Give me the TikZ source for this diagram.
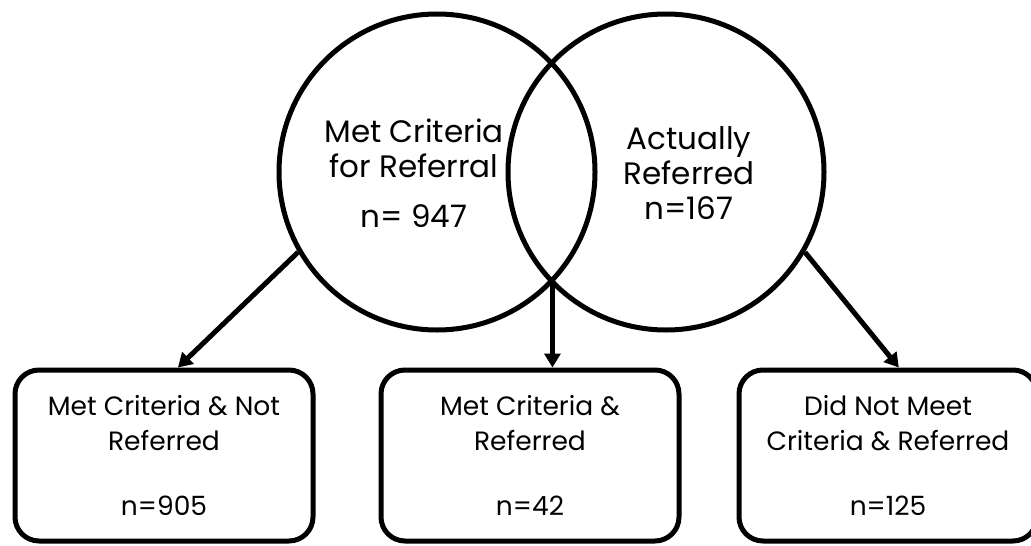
\documentclass[tikz,border=0pt]{standalone}
\usepackage{fontspec}
\setmainfont{Poppins}
\usetikzlibrary{arrows.meta}

\begin{document}
\begin{tikzpicture}[x=1pt,y=-1pt,line width=5pt,>={Triangle[length=14pt,width=16pt]},
  venn/.style={draw,circle,minimum size=316pt,inner sep=0pt},
  tag/.style={align=center,font=\fontsize{31}{35}\selectfont},
  outcome/.style={draw,rounded corners=24pt,minimum width=298pt,minimum height=171pt,
    align=center,font=\fontsize{26.5}{35}\selectfont}]
  \useasboundingbox (0,0) rectangle (1031,546);

  % the two sets
  \node[venn] (crit) at (437,172) {};
  \node[venn] (refd) at (666,172) {};
  \node[tag] (critlbl) at (414,173) {Met Criteria\\for Referral\\[15pt]n= 947};
  \node[tag] (refdlbl) at (689,173) {Actually\\Referred\\n=167};

  % outcomes
  \node[outcome] (nref) at (164,455.5) {Met Criteria \& Not\\Referred\\[30pt]n=905};
  \node[outcome] (both) at (530,455.5) {Met Criteria \&\\Referred\\[30pt]n=42};
  \node[outcome] (dnm) at (888,455.5) {Did Not Meet\\Criteria \& Referred\\[30pt]n=125};

  \draw[->] (crit.210) -- (nref.81);
  \draw[->] (crit.-44) -- (crit.-44 |- both.north);
  \draw[->] (refd.330) -- (dnm.83);
\end{tikzpicture}
\end{document}
